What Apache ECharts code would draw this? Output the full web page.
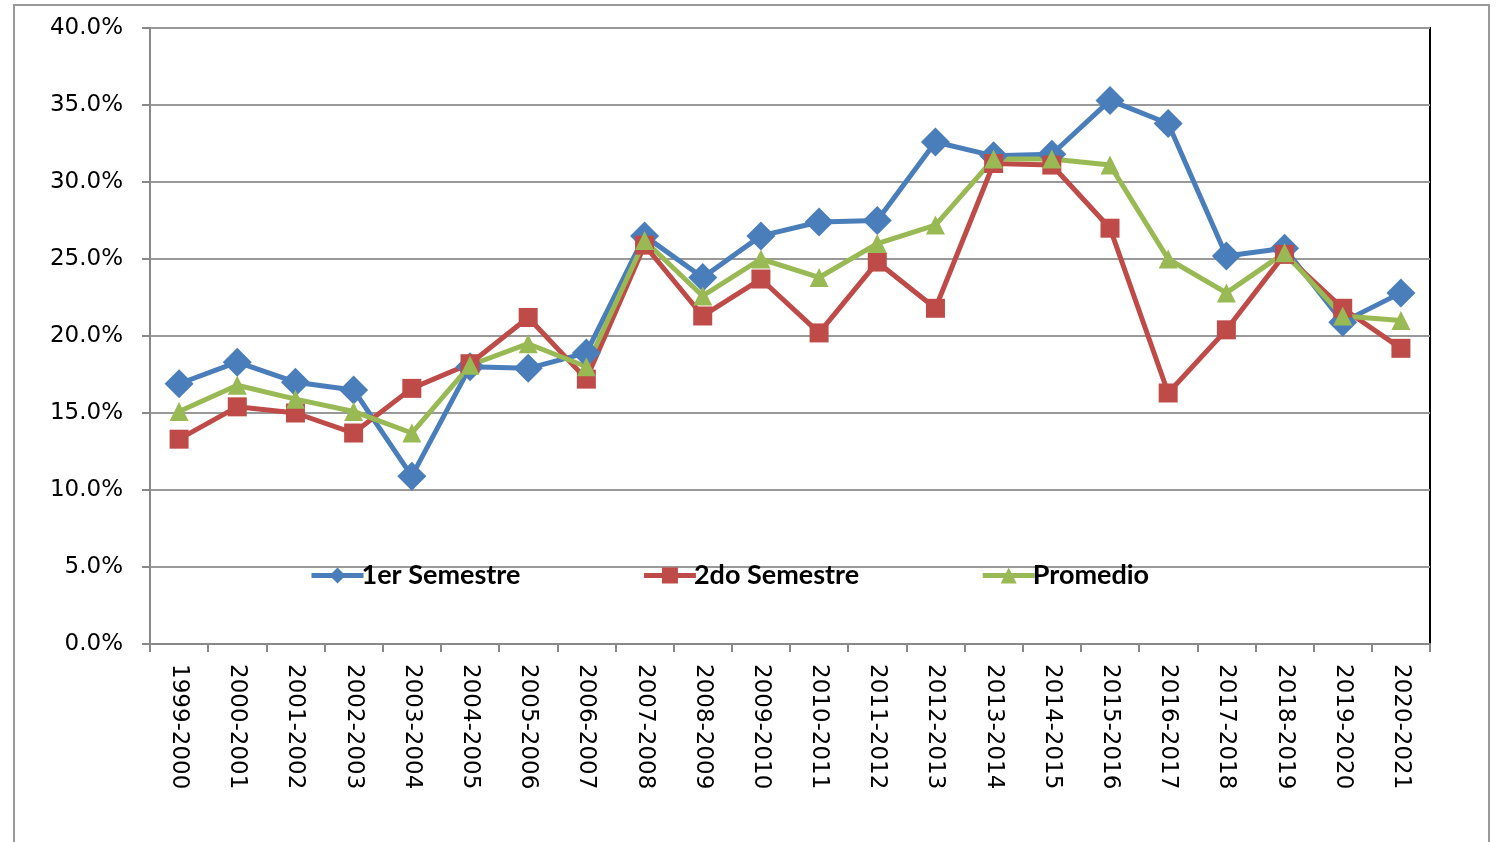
<!DOCTYPE html>
<html>
<head>
<meta charset="utf-8">
<script src="https://cdn.jsdelivr.net/npm/echarts@6/dist/echarts.min.js"></script>
<style>
  html, body { margin: 0; padding: 0; background: #fff; }
  #main { width: 1500px; height: 842px; }
</style>
</head>
<body>
<div id="main"></div>
<script>
// periodos
var periodos = ['1999-2000', '2000-2001', '2001-2002', '2002-2003', '2003-2004', '2004-2005',
  '2005-2006', '2006-2007', '2007-2008', '2008-2009', '2009-2010', '2010-2011', '2011-2012',
  '2012-2013', '2013-2014', '2014-2015', '2015-2016', '2016-2017', '2017-2018', '2018-2019',
  '2019-2020', '2020-2021']

// valores en %
var primerSemestre = [16.9, 18.3, 17.0, 16.5, 10.9, 18.0, 17.9, 18.9, 26.5, 23.8, 26.5, 27.4,
  27.5, 32.6, 31.7, 31.8, 35.3, 33.8, 25.2, 25.7, 20.9, 22.8]
var segundoSemestre = [13.3, 15.4, 15.0, 13.7, 16.6, 18.2, 21.2, 17.2, 25.9, 21.3, 23.7, 20.2,
  24.8, 21.8, 31.2, 31.1, 27.0, 16.3, 20.4, 25.3, 21.8, 19.2]
var promedio = [15.1, 16.8, 15.9, 15.1, 13.7, 18.1, 19.5, 18.0, 26.2, 22.6, 25.0, 23.8,
  26.0, 27.2, 31.5, 31.5, 31.1, 25.0, 22.8, 25.4, 21.3, 21.0]

var myChart = echarts.init(document.getElementById('main'))

function serie(nombre, datos, color, simbolo, tam) {
  return {
    name: nombre,
    type: 'line',
    data: datos,
    symbol: simbolo,
    symbolSize: tam,
    lineStyle: { color: color, width: 5 },
    itemStyle: { color: color },
    emphasis: { disabled: true },
    animation: false
  }
}

var option = {
  backgroundColor: '#fff',
  graphic: [
    {
      type: 'rect',
      shape: { x: 14, y: 5, width: 1475, height: 860 },
      style: { fill: 'none', stroke: '#999', lineWidth: 2 },
      z: -1
    }
  ],
  grid: {
    left: 150,
    right: 70,
    top: 28,
    bottom: 198,
    show: true,
    borderColor: '#000',
    borderWidth: 2
  },
  legend: {
    left: 304,
    top: 557,
    itemGap: 121,
    itemWidth: 52,
    itemHeight: 20,
    lineStyle: { width: 5 },
    textStyle: {
      fontFamily: 'Lato',
      fontWeight: 'bold',
      fontSize: 27,
      color: '#000',
      padding: [0, 0, 0, -7]
    },
    data: ['1er Semestre', '2do Semestre', 'Promedio']
  },
  xAxis: {
    type: 'category',
    data: periodos,
    boundaryGap: true,
    axisLine: { lineStyle: { color: '#888', width: 2 } },
    axisTick: { show: true, length: 8, alignWithLabel: false, lineStyle: { color: '#888', width: 2 } },
    axisLabel: {
      rotate: -90,
      interval: 0,
      margin: 20,
      fontFamily: 'DejaVu Sans',
      fontSize: 23,
      color: '#000'
    },
    splitLine: { show: false }
  },
  yAxis: {
    type: 'value',
    min: 0,
    max: 40,
    interval: 5,
    axisLine: { show: true, lineStyle: { color: '#888', width: 2 } },
    axisTick: { show: true, length: 8, lineStyle: { color: '#888', width: 2 } },
    axisLabel: {
      margin: 27,
      fontFamily: 'DejaVu Sans',
      fontSize: 23,
      color: '#000',
      formatter: function (v) { return v.toFixed(1) + '%' }
    },
    splitLine: { lineStyle: { color: '#999', width: 2 } }
  },
  series: [
    serie('1er Semestre', primerSemestre, '#4a7ebb', 'diamond', 29),
    serie('2do Semestre', segundoSemestre, '#be4b48', 'rect', 19),
    serie('Promedio', promedio, '#98b954', 'triangle', 19)
  ]
}

myChart.setOption(option)
</script>
</body>
</html>
